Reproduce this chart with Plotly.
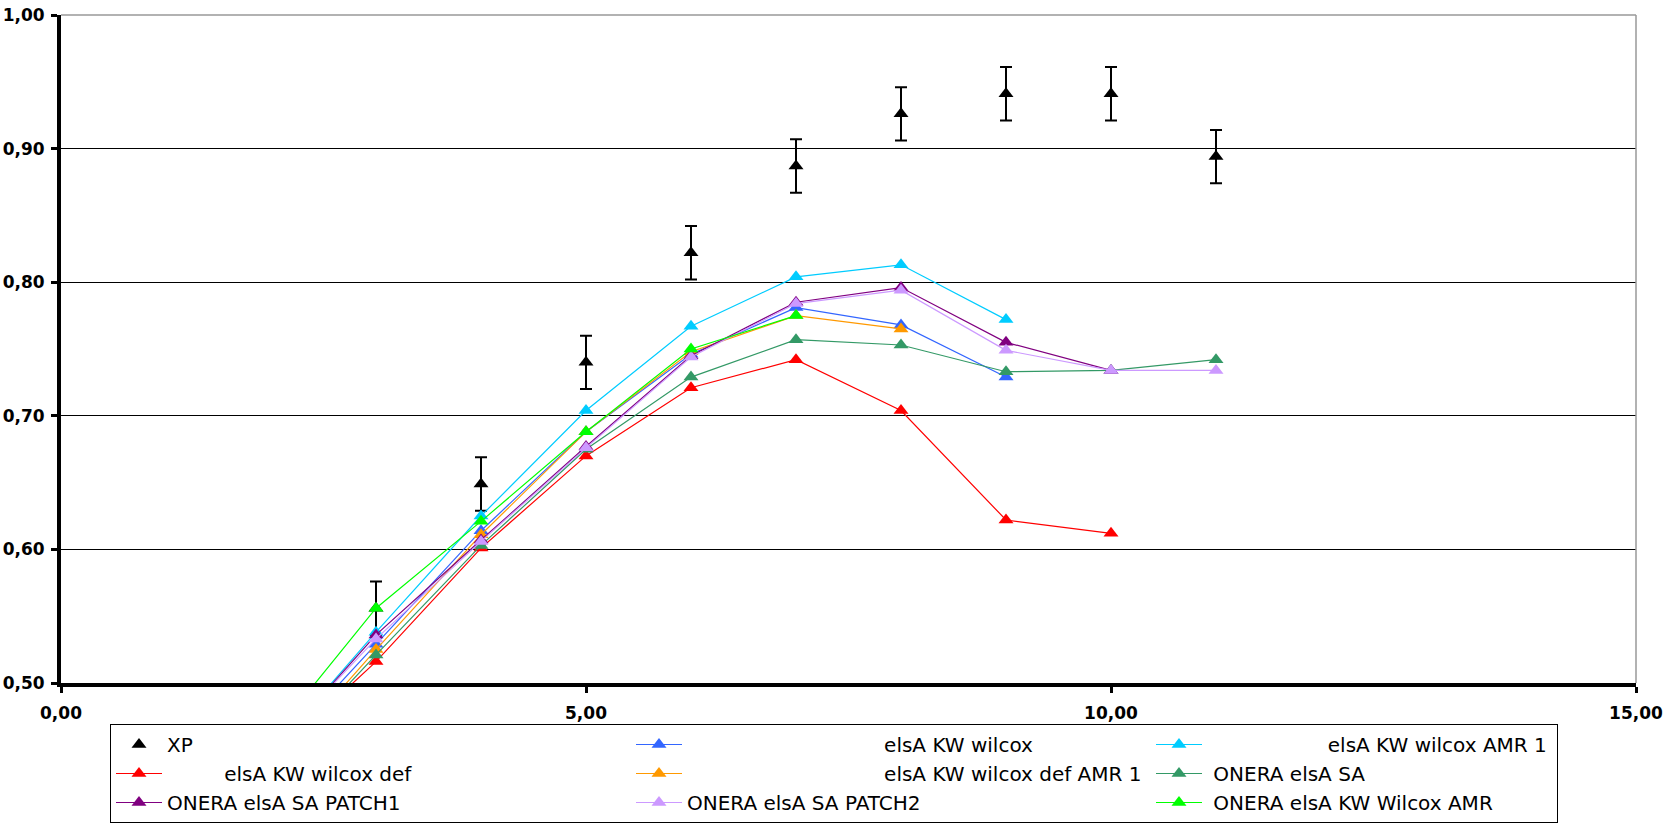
import plotly.graph_objects as go

NB = "\u00a0"

# ---------------- data ----------------
x_xp = [3, 4, 5, 6, 7, 8, 9, 10, 11]
xp = [0.556, 0.649, 0.740, 0.822, 0.887, 0.926, 0.941, 0.941, 0.894]
xp_err = [0.02, 0.02, 0.02, 0.02, 0.02, 0.02, 0.02, 0.02, 0.02]

x_kw_wilcox = [2, 3, 4, 5, 6, 7, 8, 9]
kw_wilcox = [0.444, 0.529, 0.614, 0.688, 0.746, 0.781, 0.768, 0.729]

x_kw_wilcox_amr1 = [2, 3, 4, 5, 6, 7, 8, 9]
kw_wilcox_amr1 = [0.448, 0.538, 0.625, 0.704, 0.767, 0.804, 0.813, 0.772]

x_kw_wilcox_def = [2, 3, 4, 5, 6, 7, 8, 9, 10]
kw_wilcox_def = [0.443, 0.516, 0.601, 0.670, 0.721, 0.742, 0.704, 0.622, 0.612]

x_kw_wilcox_def_amr1 = [2, 3, 4, 5, 6, 7, 8]
kw_wilcox_def_amr1 = [0.436, 0.525, 0.611, 0.688, 0.748, 0.775, 0.765]

x_onera_sa = [2, 3, 4, 5, 6, 7, 8, 9, 10, 11]
onera_sa = [0.437, 0.521, 0.603, 0.675, 0.729, 0.757, 0.753, 0.733, 0.734, 0.742]

x_patch1 = [2, 3, 4, 5, 6, 7, 8, 9, 10]
patch1 = [0.448, 0.536, 0.607, 0.677, 0.745, 0.785, 0.796, 0.755, 0.734]

x_patch2 = [2, 3, 4, 5, 6, 7, 8, 9, 10, 11]
patch2 = [0.450, 0.533, 0.606, 0.676, 0.744, 0.784, 0.794, 0.749, 0.734, 0.734]

x_kw_amr = [2, 3, 4, 5, 6, 7]
kw_amr = [0.459, 0.556, 0.621, 0.688, 0.750, 0.775]

x_ticks = [0, 5, 10, 15]
y_ticks = [0.5, 0.6, 0.7, 0.8, 0.9, 1.0]

# ---------------- figure ----------------
fig = go.Figure()

fig.add_trace(go.Scatter(
    x=x_xp, y=xp, mode="markers", name="XP",
    marker=dict(symbol="triangle-up", size=13, color="black"),
    error_y=dict(type="data", array=xp_err, visible=True, color="black",
                 thickness=2, width=6),
))

series = [
    (x_kw_wilcox, kw_wilcox, NB * 31 + "elsA KW wilcox", "#3366FF", None),
    (x_kw_wilcox_amr1, kw_wilcox_amr1, NB * 19 + "elsA KW wilcox AMR 1", "#00CCFF", 345),
    (x_kw_wilcox_def, kw_wilcox_def, NB * 9 + "elsA KW wilcox def", "#FF0000", None),
    (x_kw_wilcox_def_amr1, kw_wilcox_def_amr1, NB * 31 + "elsA KW wilcox def AMR 1", "#FF9900", None),
    (x_onera_sa, onera_sa, NB + "ONERA elsA SA", "#339966", 345),
    (x_patch1, patch1, "ONERA elsA SA PATCH1", "#800080", None),
    (x_patch2, patch2, "ONERA elsA SA PATCH2", "#CC99FF", None),
    (x_kw_amr, kw_amr, NB + "ONERA elsA KW Wilcox AMR", "#00FF00", 345),
]

for xs, ys, name, col, lw in series:
    kw = {}
    if lw is not None:
        kw["legendwidth"] = lw
    fig.add_trace(go.Scatter(
        x=xs, y=ys, mode="lines+markers", name=name,
        line=dict(color=col, width=1.2),
        marker=dict(symbol="triangle-up", size=13, color=col),
        **kw,
    ))

W, H = 1680, 826
ml, mr, mt, mb = 61, 44, 15, 143
pw = W - ml - mr
ph = H - mt - mb

fig.update_layout(
    width=W, height=H,
    margin=dict(l=ml, r=mr, t=mt, b=mb, autoexpand=False),
    paper_bgcolor="white",
    plot_bgcolor="white",
    separators=", ",
    font=dict(family="DejaVu Sans", color="black"),
    showlegend=True,
    legend=dict(
        orientation="h",
        x=(110 - ml) / pw, xanchor="left",
        y=(ph + mt - 724) / ph, yanchor="top",
        entrywidth=459, entrywidthmode="pixels",
        itemwidth=46,
        bordercolor="black", borderwidth=1,
        bgcolor="white",
        font=dict(family="DejaVu Sans", size=20, color="black"),
        traceorder="normal",
    ),
    shapes=[
        dict(type="line", xref="paper", yref="paper", x0=0, x1=1, y0=1, y1=1,
             line=dict(color="#999999", width=1.5), layer="above"),
        dict(type="line", xref="paper", yref="paper", x0=1, x1=1, y0=0, y1=1,
             line=dict(color="#999999", width=1.5), layer="above"),
    ],
)

fig.update_xaxes(
    range=[0, 15], tickvals=x_ticks, tickformat=".2f",
    showgrid=False, zeroline=False,
    showline=True, linecolor="black", linewidth=4,
    ticks="outside", ticklen=6, tickwidth=3, tickcolor="black",
    tickfont=dict(family="DejaVu Sans", size=17, color="black", weight="bold"),
    ticklabelstandoff=6,
)
fig.update_yaxes(
    range=[0.5, 1.0], tickvals=y_ticks, tickformat=".2f",
    showgrid=True, gridcolor="black", gridwidth=1,
    zeroline=False,
    showline=True, linecolor="black", linewidth=4,
    ticks="outside", ticklen=6, tickwidth=3, tickcolor="black",
    tickfont=dict(family="DejaVu Sans", size=17, color="black", weight="bold"),
    ticklabelstandoff=3,
)

fig.write_html("out.html")
